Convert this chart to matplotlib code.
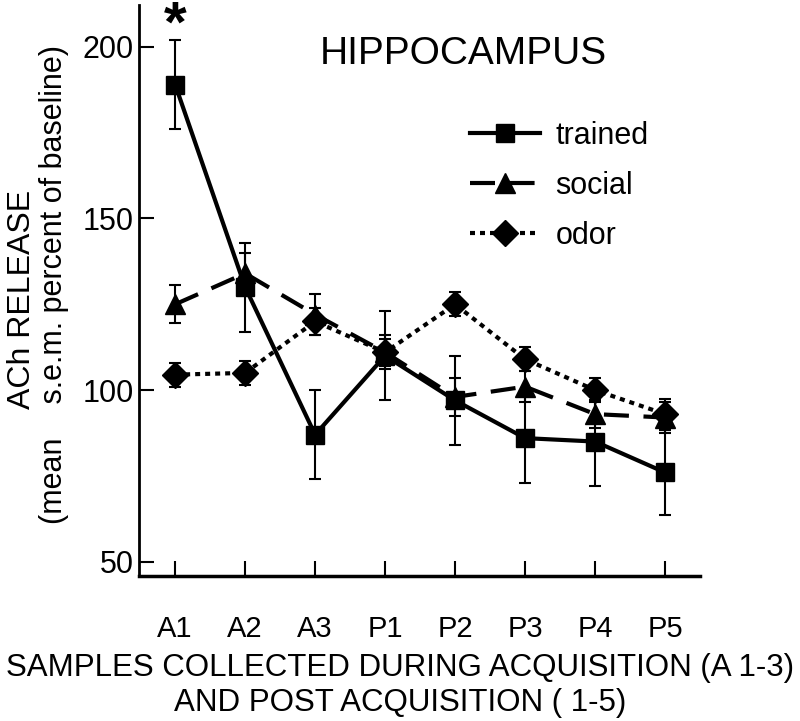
import numpy as np
import matplotlib.pyplot as plt
from matplotlib.lines import Line2D

plt.rcParams['font.family'] = ['Liberation Sans', 'DejaVu Sans']

# samples
samples = ['A1', 'A2', 'A3', 'P1', 'P2', 'P3', 'P4', 'P5']

# ACh release, % of baseline (mean and s.e.m.)
trained = [189, 130, 87, 110, 97, 86, 85, 76]
trained_err = [13, 13, 13, 13, 13, 13, 13, 12.5]
social = [125, 134, 122, 111, 98, 101, 93, 92]
social_err = [5.5, 6, 6, 5, 5.5, 4.5, 4, 4.5]
odor = [104.5, 105, 120, 111, 125, 109, 100, 93]
odor_err = [3.5, 3.5, 4, 4, 3.5, 3.5, 3.5, 4.5]

x = np.arange(len(samples))

fig = plt.figure(figsize=(8, 7.21), dpi=100)
ax = fig.add_axes([0.174, 0.201, 0.701, 0.792])

ebkw = dict(ecolor='black', elinewidth=1.5, capsize=4, capthick=1.5)
odor_style = dict(color='black', lw=3, ls=(0, (1.2, 1.2)), marker='D', ms=13)
social_style = dict(color='black', lw=3, ls=(0, (6, 3.5)), marker='^', ms=14)
trained_style = dict(color='black', lw=3, ls='-', marker='s', ms=13)

ax.errorbar(x, odor, yerr=odor_err, **odor_style, **ebkw)
ax.errorbar(x, social, yerr=social_err, **social_style, **ebkw)
ax.errorbar(x, trained, yerr=trained_err, **trained_style, **ebkw)

ax.set_xlim(-0.514, 7.5)
ax.set_ylim(45.8, 212.2)
ax.set_yticks([50, 100, 150, 200])
ax.set_xticks(x)
ax.set_xticklabels(samples)
ax.tick_params(direction='in', length=11, width=1.5, labelsize=22, pad=4)
ax.tick_params(axis='x', pad=28, labelsize=21)
for s in ['top', 'right']:
    ax.spines[s].set_visible(False)
ax.spines['left'].set_linewidth(2)
ax.spines['bottom'].set_linewidth(2.5)

ax.text(0, 206, '*', ha='center', va='center', fontsize=42, fontweight='bold')
fig.text(0.579, 0.925, 'HIPPOCAMPUS', ha='center', va='center', fontsize=28)

handles = [Line2D([], [], **trained_style),
           Line2D([], [], **social_style),
           Line2D([], [], **odor_style)]
fig.legend(handles, ['trained', 'social', 'odor'],
           loc='upper left', bbox_to_anchor=(0.553, 0.871),
           frameon=False, fontsize=22, handlelength=2.3,
           labelspacing=0.66, handletextpad=0.5)

fig.text(0.028, 0.584, 'ACh RELEASE', rotation=90, ha='center', va='center', fontsize=23)
fig.text(0.068, 0.605, '(mean    s.e.m. percent of baseline)', rotation=90,
         ha='center', va='center', fontsize=22)

fig.text(0.5, 0.073, 'SAMPLES COLLECTED DURING ACQUISITION (A 1-3)',
         ha='center', va='center', fontsize=22.5)
fig.text(0.5, 0.025, 'AND POST ACQUISITION ( 1-5)',
         ha='center', va='center', fontsize=22.5)

fig.savefig('out.png', dpi=100)
